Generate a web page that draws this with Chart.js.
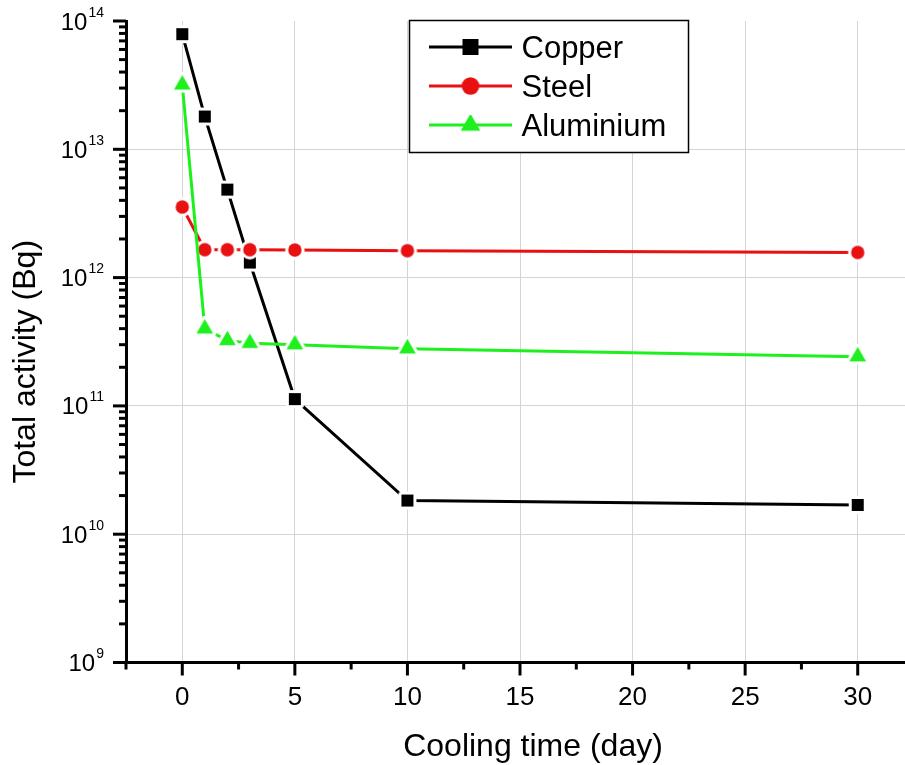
<!DOCTYPE html>
<html>
<head>
<meta charset="utf-8">
<title>Total activity vs cooling time</title>
<script src="https://cdn.jsdelivr.net/npm/chart.js@4.4.1/dist/chart.umd.min.js"></script>
<style>
    html, body { margin: 0; padding: 0; background: #ffffff; overflow: hidden; }
    .chart-container { width: 905px; height: 765px; overflow: hidden; }
    canvas { display: block; }
</style>
</head>
<body>
<div class="chart-container">
    <canvas id="activityChart" width="925" height="765"></canvas>
</div>
<script>
// Cooling time in days
const coolingDays = [0, 1, 2, 3, 5, 10, 30];

// Total activity (Bq) per material
const copperActivity = [7.9e13, 1.80e13, 4.85e12, 1.31e12, 1.13e11, 1.83e10, 1.69e10];
const steelActivity = [3.55e12, 1.65e12, 1.65e12, 1.65e12, 1.64e12, 1.62e12, 1.57e12];
const aluminiumActivity = [3.18e13, 3.99e11, 3.24e11, 3.08e11, 3.0e11, 2.79e11, 2.42e11];

const materialNames = ['Copper', 'Steel', 'Aluminium'];

// Axis ranges and tick labels
const xRange = [-2.5, 32.5];
const xTickStep = 2.5;
const yDecades = [9, 10, 11, 12, 13, 14];
const yMantissas = [1, 2, 3, 4, 5, 6, 7, 8, 9];

const xTitle = 'Cooling time (day)';
const yTitle = 'Total activity (Bq)';

const FONT = '"Liberation Sans", Arial, Helvetica, sans-serif';
const GRID = '#d4d4d4';

// marker sprite: coloured shape with a white ring so the line stops short of it
function makeMarker(shape, color, size, halo) {
    const dim = Math.ceil(size + 2 * halo + 4);
    const c = document.createElement('canvas');
    c.width = dim;
    c.height = dim;
    const g = c.getContext('2d');
    const cx = dim / 2, cy = dim / 2;
    const path = () => {
        g.beginPath();
        if (shape === 'rect') {
            g.rect(cx - size / 2, cy - size / 2, size, size);
        } else if (shape === 'circle') {
            g.arc(cx, cy, size / 2, 0, Math.PI * 2);
        } else {
            const w = size * 1.15, h = size;
            g.moveTo(cx, cy - 2 * h / 3);
            g.lineTo(cx + w / 2, cy + h / 3);
            g.lineTo(cx - w / 2, cy + h / 3);
            g.closePath();
        }
    };
    if (halo > 0) {
        path();
        g.fillStyle = '#ffffff';
        g.strokeStyle = '#ffffff';
        g.lineWidth = halo * 2;
        g.lineJoin = 'round';
        g.stroke();
        g.fill();
    }
    path();
    g.fillStyle = color;
    g.fill();
    return c;
}

const seriesStyle = [
    { color: '#000000', shape: 'rect', size: 12, legendSize: 16 },
    { color: '#e81010', shape: 'circle', size: 13.4, legendSize: 17.6 },
    { color: '#1ef01e', shape: 'triangle', size: 14.5, legendSize: 17 }
];

// y tick labels written as 10 with a raised exponent, plus the tick marks
const axisDecorPlugin = {
    id: 'axisDecor',
    afterDraw(chart) {
        const ctx = chart.ctx;
        const area = chart.chartArea;
        const xs = chart.scales.x;
        const ys = chart.scales.y;
        ctx.save();
        ctx.strokeStyle = '#000000';
        ctx.lineWidth = 3;
        ctx.lineCap = 'butt';

        ys.ticks.forEach(t => {
            const y = ys.getPixelForValue(t.value);
            const exp = Math.log10(t.value);
            const major = Math.abs(exp - Math.round(exp)) < 1e-9;
            const len = major ? 13 : 7;
            ctx.beginPath();
            ctx.moveTo(area.left - len, y);
            ctx.lineTo(area.left, y);
            ctx.stroke();
            if (major) {
                const right = area.left - 22;
                ctx.fillStyle = '#000000';
                ctx.textAlign = 'right';
                ctx.textBaseline = 'alphabetic';
                ctx.font = '14px ' + FONT;
                const sup = String(Math.round(exp));
                ctx.fillText(sup, right, y - 4.5);
                const supW = ctx.measureText(sup).width;
                ctx.font = '24px ' + FONT;
                ctx.fillText('10', right - supW - 1, y + 8.5);
            }
        });

        xs.ticks.forEach(t => {
            const x = xs.getPixelForValue(t.value);
            const len = t.value % 5 === 0 ? 13 : 7;
            ctx.beginPath();
            ctx.moveTo(x, area.bottom);
            ctx.lineTo(x, area.bottom + len);
            ctx.stroke();
        });

        // axis titles
        ctx.fillStyle = '#000000';
        ctx.font = '32px ' + FONT;
        ctx.textAlign = 'center';
        ctx.textBaseline = 'alphabetic';
        ctx.fillText(xTitle, xs.getPixelForValue(15) + 13, area.bottom + 93);

        ctx.save();
        ctx.translate(35, (area.top + area.bottom) / 2 + 20);
        ctx.rotate(-Math.PI / 2);
        ctx.fillText(yTitle, 0, 0);
        ctx.restore();
        ctx.restore();
    }
};

// boxed legend sitting inside the plot area
const boxLegendPlugin = {
    id: 'boxLegend',
    afterDatasetsDraw(chart) {
        const ctx = chart.ctx;
        const area = chart.chartArea;
        const left = area.left + 283.5;
        const top = area.top - 0.5;
        const w = 279, h = 132;
        ctx.save();
        ctx.fillStyle = '#ffffff';
        ctx.fillRect(left, top, w, h);
        ctx.strokeStyle = '#000000';
        ctx.lineWidth = 1.5;
        ctx.strokeRect(left, top, w, h);

        chart.data.datasets.forEach((ds, i) => {
            const st = seriesStyle[i];
            const cy = top + 26.5 + i * 39;
            ctx.strokeStyle = st.color;
            ctx.lineWidth = 3;
            ctx.beginPath();
            ctx.moveTo(left + 19.5, cy);
            ctx.lineTo(left + 102.5, cy);
            ctx.stroke();
            const m = makeMarker(st.shape, st.color, st.legendSize, 0);
            ctx.drawImage(m, left + 61 - m.width / 2, cy - m.height / 2);

            ctx.fillStyle = '#000000';
            ctx.font = '31px ' + FONT;
            ctx.textAlign = 'left';
            ctx.textBaseline = 'alphabetic';
            ctx.fillText(ds.label, left + 112, cy + 10.5);
        });
        ctx.restore();
    }
};

class ActivityChart {
    constructor() {
        this.chart = null;
        this.renderChart();
    }

    buildDataset(label, values, i) {
        const st = seriesStyle[i];
        return {
            label: label,
            data: coolingDays.map((d, k) => ({ x: d, y: values[k] })),
            borderColor: st.color,
            backgroundColor: st.color,
            borderWidth: 3,
            tension: 0,
            pointStyle: makeMarker(st.shape, st.color, st.size, 3),
            pointRadius: 8,
            pointHoverRadius: 8,
            order: 3 - i
        };
    }

    renderChart() {
        const ctx = document.getElementById('activityChart').getContext('2d');
        const isDecade = v => {
            const e = Math.log10(v);
            return Math.abs(e - Math.round(e)) < 1e-9;
        };

        this.chart = new Chart(ctx, {
            type: 'line',
            data: {
                datasets: [
                    this.buildDataset(materialNames[0], copperActivity, 0),
                    this.buildDataset(materialNames[1], steelActivity, 1),
                    this.buildDataset(materialNames[2], aluminiumActivity, 2)
                ]
            },
            options: {
                responsive: false,
                animation: false,
                devicePixelRatio: 1,
                layout: {
                    padding: { top: 21, right: 1, left: 0, bottom: 0 }
                },
                plugins: {
                    legend: { display: false },
                    tooltip: { enabled: false }
                },
                scales: {
                    x: {
                        type: 'linear',
                        min: xRange[0],
                        max: xRange[1],
                        afterFit: scale => {
                            scale.height = 102.5;
                            scale.paddingLeft = 0;
                            scale.paddingRight = 0;
                        },
                        ticks: {
                            stepSize: xTickStep,
                            color: '#000000',
                            padding: 20,
                            maxRotation: 0,
                            autoSkip: false,
                            font: { family: FONT, size: 26 },
                            callback: v => (v % 5 === 0 ? String(v) : '')
                        },
                        grid: {
                            drawTicks: false,
                            color: c => (c.tick && c.tick.value % 5 === 0 && c.tick.value >= 0 && c.tick.value <= 30 ? GRID : 'transparent'),
                            lineWidth: 1
                        },
                        border: { display: true, color: '#000000', width: 3 }
                    },
                    y: {
                        type: 'logarithmic',
                        min: Math.pow(10, yDecades[0]),
                        max: Math.pow(10, yDecades[yDecades.length - 1]),
                        afterFit: scale => {
                            scale.width = 126;
                            scale.paddingTop = 0;
                            scale.paddingBottom = 0;
                        },
                        afterBuildTicks: scale => {
                            const ticks = [];
                            yDecades.forEach((e, k) => {
                                yMantissas.forEach(m => {
                                    if (k < yDecades.length - 1 || m === 1) {
                                        ticks.push({ value: m * Math.pow(10, e) });
                                    }
                                });
                            });
                            scale.ticks = ticks;
                        },
                        ticks: { display: false },
                        grid: {
                            drawTicks: false,
                            color: c => {
                                if (!c.tick) return 'transparent';
                                const v = c.tick.value;
                                const inner = v > Math.pow(10, yDecades[0]) && v < Math.pow(10, yDecades[yDecades.length - 1]);
                                return isDecade(v) && inner ? GRID : 'transparent';
                            },
                            lineWidth: 1
                        },
                        border: { display: true, color: '#000000', width: 3 }
                    }
                }
            },
            plugins: [boxLegendPlugin, axisDecorPlugin]
        });
    }
}

new ActivityChart();
</script>
</body>
</html>
